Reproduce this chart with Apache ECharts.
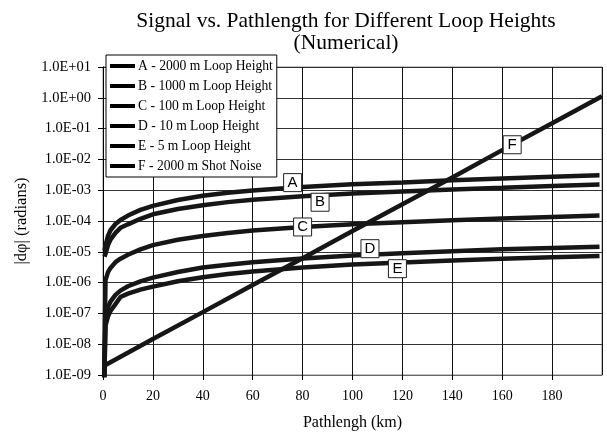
<!DOCTYPE html>
<html>
<head>
<meta charset="utf-8">
<script src="https://cdn.jsdelivr.net/npm/echarts@6/dist/echarts.min.js"></script>
<style>
    html, body { margin: 0; padding: 0; background: #fff; }
    #chart { width: 607px; height: 433px; }
</style>
</head>
<body>
<div id="chart"></div>
<script>
// pathlength (km) where the loop-height curves were read
const pathKm = [1, 2, 3, 5, 7, 10, 15, 20, 30, 40, 50, 60, 80, 100, 120, 140, 160, 180, 199];

// |dphi| (radians)
const loopA = [1.6e-5, 3.3e-5, 5.0e-5, 8.0e-5, 1.08e-4, 1.5e-4, 2.3e-4, 3.1e-4, 4.8e-4, 6.6e-4, 8.2e-4, 9.8e-4, 1.28e-3, 1.55e-3, 1.78e-3, 2.1e-3, 2.4e-3, 2.75e-3, 3.05e-3];
const loopB = [8.5e-6, 1.65e-5, 2.5e-5, 4.1e-5, 6.0e-5, 7.8e-5, 1.18e-4, 1.65e-4, 2.45e-4, 3.25e-4, 4.1e-4, 4.9e-4, 6.4e-4, 7.8e-4, 9.1e-4, 1.06e-3, 1.2e-3, 1.37e-3, 1.53e-3];
const loopC = [1.2e-6, 2.2e-6, 3.0e-6, 4.6e-6, 6.0e-6, 8.0e-6, 1.2e-5, 1.65e-5, 2.45e-5, 3.25e-5, 4.1e-5, 4.9e-5, 6.4e-5, 7.8e-5, 9.1e-5, 1.06e-4, 1.2e-4, 1.35e-4, 1.5e-4];
const loopD = [8e-8, 1.6e-7, 2.4e-7, 4.0e-7, 5.5e-7, 7.6e-7, 1.1e-6, 1.45e-6, 2.2e-6, 3.1e-6, 3.8e-6, 4.6e-6, 6.1e-6, 7.6e-6, 9.0e-6, 1.05e-5, 1.2e-5, 1.33e-5, 1.47e-5];
const loopE = [4e-8, 8e-8, 1.2e-7, 2.0e-7, 3.4e-7, 4.4e-7, 5.9e-7, 7.4e-7, 1.1e-6, 1.5e-6, 1.9e-6, 2.3e-6, 3.1e-6, 3.85e-6, 4.5e-6, 5.2e-6, 5.9e-6, 6.6e-6, 7.3e-6];

// first points: A/B start near 0.6 km, C/D/E fall off the bottom near 0
const startA = [0.6, 1.1e-5];
const startB = [0.6, 7e-6];
const startLow = [0.3, 1e-10];

// shot noise line
const noiseKm = [1, 20, 40, 60, 80, 100, 120, 140, 160, 180, 200];
const noiseF = [2.1e-9, 1.47e-8, 1.1e-7, 8.3e-7, 6.2e-6, 4.7e-5, 3.5e-4, 2.6e-3, 2.0e-2, 0.149, 1.12];

const seriesNames = ['A - 2000 m Loop Height', 'B - 1000 m Loop Height', 'C - 100 m Loop Height',
    'D - 10 m Loop Height', 'E - 5 m Loop Height', 'F - 2000 m Shot Noise'];
const tags = ['A', 'B', 'C', 'D', 'E', 'F'];
const tagKm = [76, 87, 80, 107, 118, 164];
const tagShift = [-5, 7, 0, -6, 6, 0];

const font = '"Liberation Serif", "Times New Roman", serif';

function pairs(xs, ys, first) {
    let out = first ? [first] : [];
    xs.forEach((x, i) => out.push([x, ys[i]]));
    return out;
}

// position of a tag along its curve (log interpolation between neighbours)
function valueAt(data, km) {
    for (let i = 1; i < data.length; i++) {
        if (data[i][0] >= km) {
            const [x0, y0] = data[i - 1], [x1, y1] = data[i];
            const t = (km - x0) / (x1 - x0);
            return Math.pow(10, Math.log10(y0) + t * (Math.log10(y1) - Math.log10(y0)));
        }
    }
    return data[data.length - 1][1];
}

const allData = [
    pairs(pathKm, loopA, startA),
    pairs(pathKm, loopB, startB),
    pairs(pathKm, loopC, startLow),
    pairs(pathKm, loopD, startLow),
    pairs(pathKm, loopE, startLow),
    pairs(noiseKm, noiseF)
];

function expLabel(v) {
    const e = Math.round(Math.log10(v));
    return '1.0E' + (e < 0 ? '-' : '+') + String(Math.abs(e)).padStart(2, '0');
}

const chart = echarts.init(document.getElementById('chart'));

const option = {
    backgroundColor: '#fff',
    animation: false,
    title: {
        text: 'Signal vs. Pathlength for Different Loop Heights\n(Numerical)',
        left: 341,
        top: 5,
        textAlign: 'center',
        textStyle: { fontFamily: font, fontSize: 21.5, fontWeight: 'normal', color: '#000', lineHeight: 22 }
    },
    legend: {
        orient: 'vertical',
        left: 106,
        top: 55,
        icon: 'rect',
        itemWidth: 25,
        itemHeight: 4,
        itemGap: 6,
        padding: [4, 4, 4, 4],
        backgroundColor: '#fff',
        borderColor: '#000',
        borderWidth: 1,
        textStyle: { fontFamily: font, fontSize: 13.6, color: '#000', lineHeight: 14, padding: [0, 0, 0, -2] },
        data: seriesNames
    },
    grid: {
        left: 103, right: 5, top: 67, bottom: 58,
        outerBoundsMode: 'none',
        show: true, borderColor: '#888', borderWidth: 1
    },
    xAxis: {
        type: 'value',
        min: 0,
        max: 200,
        interval: 20,
        name: 'Pathlengh (km)',
        nameLocation: 'middle',
        nameGap: 40,
        nameTextStyle: { fontFamily: font, fontSize: 16, color: '#000' },
        axisLine: { show: true, lineStyle: { color: '#666' } },
        axisTick: { show: true, length: 5, inside: false, lineStyle: { color: '#000' } },
        axisLabel: { fontFamily: font, fontSize: 14, color: '#000', margin: 14, showMaxLabel: false },
        splitLine: { show: true, lineStyle: { color: '#111', width: 1 } }
    },
    yAxis: {
        type: 'log',
        logBase: 10,
        min: 1e-9,
        max: 10,
        splitNumber: 10,
        name: '|dφ| (radians)',
        nameLocation: 'middle',
        nameGap: 69,
        nameRotate: 90,
        nameTextStyle: { fontFamily: font, fontSize: 16.5, color: '#000' },
        axisLine: { show: true, lineStyle: { color: '#000' } },
        axisTick: { show: true, length: 5, lineStyle: { color: '#000' } },
        axisLabel: { fontFamily: font, fontSize: 14.5, color: '#000', margin: 12, formatter: expLabel },
        minorTick: { show: false },
        splitLine: { show: true, lineStyle: { color: '#333', width: 1 } }
    },
    series: allData.map((data, i) => ({
        name: seriesNames[i],
        type: 'line',
        data: data,
        showSymbol: false,
        symbol: 'none',
        smooth: false,
        color: '#000',
        lineStyle: { color: '#161616', width: 4.5 },
        z: 2,
        markPoint: {
            z: 10,
            symbol: 'rect',
            symbolSize: [18, 18],
            symbolOffset: [0, tagShift[i]],
            itemStyle: { color: '#fff', borderColor: '#222', borderWidth: 1 },
            label: {
                show: true,
                position: 'inside',
                formatter: tags[i],
                fontFamily: '"Liberation Sans", Arial, sans-serif',
                fontSize: 15,
                color: '#000'
            },
            data: [{ coord: [tagKm[i], valueAt(data, tagKm[i])] }]
        }
    }))
};

chart.setOption(option);
</script>
</body>
</html>
